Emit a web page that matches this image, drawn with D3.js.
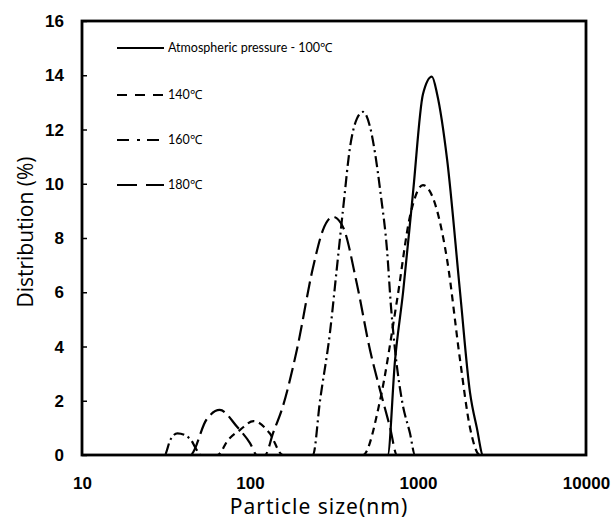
<!DOCTYPE html>
<html>
<head>
<meta charset="utf-8">
<script src="https://cdn.jsdelivr.net/npm/d3@7"></script>
<style>
  body { margin: 0; background: #fff; }
  svg { display: block; }
</style>
</head>
<body>
<div class="chart"></div>
<script>
// series: [particle size nm, distribution %]
var sizes100 = [10, 660, 730, 815, 935, 1070, 1210, 1300, 1490, 1780, 2040, 2240, 2440, 10000];
var dist100  = [0, 0, 3.5, 6.0, 9.7, 13.3, 13.95, 13.3, 10.9, 6.0, 2.3, 1.0, 0, 0];

var sizes140 = [10, 64, 74, 87, 105, 131, 157, 470, 594, 750, 896, 1070, 1300, 1490, 1780, 2040, 2340, 10000];
var dist140  = [0, 0, 0.55, 0.92, 1.25, 0.8, 0, 0, 2.0, 5.7, 8.8, 9.95, 9.0, 7.2, 3.5, 1.0, 0, 0];

var sizes160 = [10, 31, 33.5, 37, 44, 48, 51, 237, 261, 299, 329, 360, 394, 433, 471, 518, 556, 600, 654, 690, 730, 803, 896, 960, 10000];
var dist160  = [0, 0, 0.55, 0.8, 0.6, 0.2, 0, 0, 2.0, 4.5, 6.9, 9.2, 11.35, 12.4, 12.65, 12.1, 11.1, 9.6, 7.56, 5.5, 3.87, 2.0, 0.8, 0, 0];

var sizes180 = [10, 44, 55, 66, 84, 100, 110, 123, 137, 157, 190, 237, 272, 312, 358, 433, 518, 594, 681, 750, 10000];
var dist180  = [0, 0, 1.3, 1.66, 1.03, 0.44, 0, 0, 0.8, 1.8, 3.87, 6.9, 8.3, 8.78, 8.4, 6.3, 3.87, 2.4, 1.03, 0, 0];

var seriesNames = ["Atmospheric pressure - 100\u2103", "140\u2103", "160\u2103", "180\u2103"];
var xTicks = [10, 100, 1000, 10000];
var yTicks = [0, 2, 4, 6, 8, 10, 12, 14, 16];

var width = 614, height = 520;
var plotLeft = 82, plotRight = 586, plotTop = 21, plotBottom = 455;

var x = d3.scaleLog().domain([10, 10000]).range([plotLeft, plotRight]);
var y = d3.scaleLinear().domain([0, 16]).range([plotBottom, plotTop]);

var svg = d3.select(".chart")
    .append("svg")
    .attr("width", width)
    .attr("height", height);

//Line styles per series (plot, legend)
var dashes = ["none", "7,5", "11,4,2,4", "16,6"];
var legendDashes = ["none", "10,8", "12,8,3,7", "20,9"];
var series = [
    d3.zip(sizes100, dist100),
    d3.zip(sizes140, dist140),
    d3.zip(sizes160, dist160),
    d3.zip(sizes180, dist180)
];

var line = d3.line()
    .x(d => x(d[0]))
    .y(d => y(d[1]))
    .curve(d3.curveMonotoneX);

series.forEach((s, i) => {
    svg.append("path")
        .datum(s)
        .attr("fill", "none")
        .attr("stroke", "#000")
        .attr("stroke-width", 2.2)
        .attr("stroke-dasharray", dashes[i])
        .attr("d", line);
});

//Frame
svg.append("rect")
    .attr("x", plotLeft)
    .attr("y", plotTop)
    .attr("width", plotRight - plotLeft)
    .attr("height", plotBottom - plotTop)
    .attr("fill", "none")
    .attr("stroke", "#000")
    .attr("stroke-width", 2.8);

//Y axis, ticks inside
var yAxis = svg.append("g")
    .attr("transform", `translate(${plotLeft},0)`)
    .call(d3.axisRight(y).tickValues(yTicks).tickSize(5).tickFormat(""));
yAxis.select(".domain").remove();
yAxis.selectAll("line").attr("stroke-width", 1.5);

svg.selectAll(".ylab")
    .data(yTicks)
    .enter().append("text")
    .attr("class", "ylab")
    .attr("x", 64)
    .attr("y", d => y(d))
    .attr("dy", "0.36em")
    .attr("text-anchor", "end")
    .style("font", "bold 17px 'Liberation Sans', Arial, sans-serif")
    .text(d => d);

//X axis labels
var xAxis = svg.append("g")
    .attr("transform", `translate(0,${plotBottom})`)
    .call(d3.axisBottom(x).tickValues(xTicks).tickSize(0).tickPadding(0).tickFormat(d3.format("d")));
xAxis.select(".domain").remove();
xAxis.selectAll("text")
    .attr("y", 34)
    .attr("dy", 0)
    .attr("fill", "#000")
    .style("font", "bold 17px 'Liberation Sans', Arial, sans-serif");

//Axis titles
svg.append("text")
    .attr("x", 319)
    .attr("y", 514)
    .attr("text-anchor", "middle")
    .style("font", "21px 'Noto Sans', sans-serif")
    .style("letter-spacing", "1px")
    .text("Particle size(nm)");

svg.append("text")
    .attr("transform", "translate(33,232) rotate(-90)")
    .attr("text-anchor", "middle")
    .style("font", "21px 'Open Sans', sans-serif")
    .text("Distribution (%)");

//Legend
var legendY = [48, 95, 140, 185];
var legend = svg.selectAll(".legend")
    .data(seriesNames)
    .enter().append("g")
    .attr("class", "legend")
    .attr("transform", (d, i) => `translate(117,${legendY[i]})`);

legend.append("line")
    .attr("x1", 0)
    .attr("x2", (d, i) => i === 2 ? 42 : 47)
    .attr("stroke", "#000")
    .attr("stroke-width", 2.2)
    .attr("stroke-dasharray", (d, i) => legendDashes[i]);

legend.append("text")
    .attr("x", 51)
    .attr("dy", "0.35em")
    .style("font", "12.5px Lato, sans-serif")
    .text(d => d);
</script>
</body>
</html>
